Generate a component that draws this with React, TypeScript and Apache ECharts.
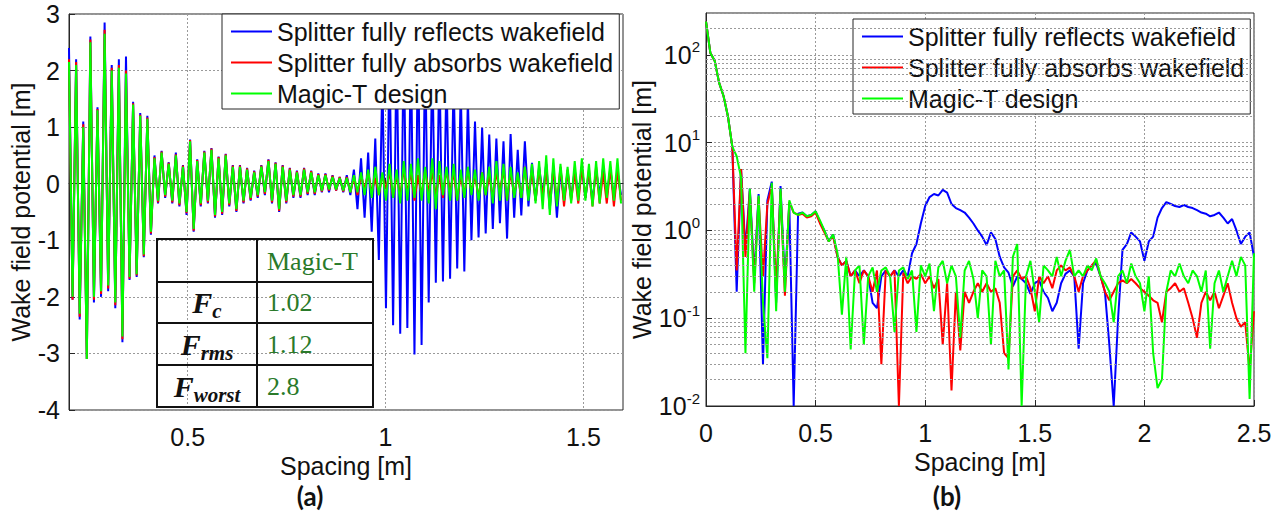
import React, { useEffect, useRef } from 'react';
import * as echarts from 'echarts';

// ---------- data ----------
const SERIES_NAMES = [
  'Splitter fully reflects wakefield',
  'Splitter fully absorbs wakefield',
  'Magic-T design',
];
const SERIES_COLORS = ['#0000ff', '#ff0000', '#00ff00'];

// panel (a): samples start at 0.2 m, spaced 0.009 m
const A_X_START = 0.2;
const A_X_STEP = 0.009;
const A_REFLECT = [2.4,-2.05,2.2,-2.4,1.1,-3.1,2.6,-2.1,1.35,-2.0, 2.85,-1.9,2.1,-2.2,2.2,-2.8,2.25,-1.7,1.45,-1.65, 1.25,-1.3,1.2,-0.9,0.5,-0.35,0.58,-0.25,0.38,-0.35, 0.55,-0.4,0.33,-0.55,0.78,-0.85,0.43,-0.4,0.58,-0.35, 0.63,-0.6,0.48,-0.55,0.53,-0.4,0.33,-0.5,0.33,-0.35, 0.28,-0.3,0.23,-0.25,0.33,-0.2,0.43,-0.35,0.38,-0.5, 0.33,-0.35,0.28,-0.25,0.23,-0.25,0.28,-0.2,0.23,-0.2, 0.18,-0.15,0.18,-0.15,0.15,-0.12,0.12,-0.15,0.15,-0.2, 0.25,-0.45,0.45,-0.6,0.55,-0.85,0.8,-1.35,1.9,-2.2, 2.4,-2.5,2.6,-2.65,2.7,-2.55,2.6,-3.02,2.7,-2.85, 2.5,-2.1,2.3,-1.75,2.2,-1.73,2.0,-1.68,1.9,-1.5, 1.7,-1.55,1.5,-1.0,1.1,-0.95,0.99,-0.88,0.87,-0.8, 0.8,-0.7,0.75,-0.97,0.88,-0.6,0.6,-0.56,0.75,-0.4, 0.37,-0.3,0.3,-0.2,0.35,-0.45,0.3,-0.6,0.25,-0.3, 0.2,-0.25,0.25,-0.2,0.3,-0.25,0.2,-0.3,0.25,-0.2, 0.3,-0.2,0.25,-0.25,0.2,-0.2];
const A_ABSORB = [2.2,-2.05,2.15,-2.35,1.05,-3.1,2.55,-2.05,1.32,-1.95, 2.72,-1.85,2.05,-2.15,2.1,-2.75,2.0,-1.68,1.42,-1.62, 1.22,-1.28,1.17,-0.88,0.47,-0.33,0.57,-0.23,0.37,-0.33, 0.52,-0.38,0.32,-0.52,0.77,-0.83,0.42,-0.38,0.57,-0.33, 0.62,-0.58,0.47,-0.53,0.52,-0.38,0.32,-0.48,0.32,-0.33, 0.27,-0.28,0.22,-0.23,0.32,-0.18,0.42,-0.33,0.37,-0.48, 0.32,-0.33,0.27,-0.23,0.22,-0.23,0.27,-0.18,0.22,-0.18, 0.17,-0.14,0.17,-0.12,0.14,-0.12,0.12,-0.14,0.12, -0.15,0.12,-0.2,0.15,-0.1,0.2,-0.15,0.1,-0.2,0.15, -0.1,0.2,-0.25,0.15,-0.2,0.25,-0.15,0.2,-0.3,0.15, -0.2,0.25,-0.15,0.2,-0.2,0.15,-0.25,0.25,-0.15,0.2, -0.3,0.15,-0.2,0.25,-0.15,0.15,-0.25,0.2,-0.2,0.15, -0.25,0.2,-0.15,0.25,-0.3,0.2,-0.2,0.15,-0.25,0.3, -0.2,0.2,-0.3,0.25,-0.2,0.2,-0.3,0.25,-0.35,0.3, -0.4,0.25,-0.3,0.2,-0.35,0.3,-0.25,0.25,-0.4,0.3, -0.35,0.2,-0.35,0.3,-0.4,0.25,-0.3];
const A_MAGIC = [2.15,-2.0,2.1,-2.3,1.0,-3.1,2.5,-2.0,1.3,-1.9, 2.65,-1.8,2.0,-2.1,2.05,-2.7,1.95,-1.65,1.4,-1.6, 1.2,-1.25,1.15,-0.85,0.45,-0.3,0.55,-0.2,0.35,-0.3, 0.5,-0.35,0.3,-0.5,0.75,-0.8,0.4,-0.35,0.55,-0.3, 0.6,-0.55,0.45,-0.5,0.5,-0.35,0.3,-0.45,0.3,-0.3, 0.25,-0.25,0.2,-0.2,0.3,-0.15,0.4,-0.3,0.35,-0.45, 0.3,-0.3,0.25,-0.2,0.2,-0.2,0.25,-0.15,0.2,-0.15, 0.15,-0.12,0.15,-0.1,0.12,-0.1,0.1,-0.12,0.1,-0.15, 0.15,-0.15,0.2,-0.2,0.25,-0.25,0.3,-0.2,0.2,-0.3, 0.35,-0.25,0.25,-0.35,0.4,-0.3,0.35,-0.25,0.45,-0.3, 0.3,-0.35,0.45,-0.45,0.4,-0.2,0.3,-0.3,0.35,-0.3, 0.25,-0.25,0.3,-0.2,0.25,-0.3,0.2,-0.2,0.3,-0.35, 0.4,-0.3,0.35,-0.3,0.3,-0.25,0.2,-0.25,0.3,-0.3, 0.35,-0.35,0.4,-0.45,0.5,-0.55,0.45,-0.4,0.35,-0.3, 0.3,-0.35,0.4,-0.3,0.45,-0.3,0.35,-0.4,0.4,-0.35, 0.45,-0.25,0.4,-0.3,0.45,-0.35];

// panel (b): samples start at 0 m, spaced 0.02 m
const B_X_START = 0;
const B_X_STEP = 0.02;
const B_REFLECT = [240,105,85,48,34,20,9,0.2,5,0.6, 3,0.3,2.6,0.03,2.2,3.6,0.15,3.2,0.25,2.0, 0.01,1.55,1.6,1.45,1.5,1.65,1.25,1.0,0.75,0.9, 0.5,0.4,0.45,0.3,0.35,0.3,0.35,0.3,0.15,0.13, 0.3,0.35,0.3,0.35,0.3,0.35,0.3,0.55,0.7,1.2, 1.9,2.4,2.6,2.5,2.9,2.7,2.0,1.8,1.7,1.6, 1.4,1.2,1.0,0.85,0.68,0.95,0.8,0.5,0.38,0.33, 0.23,0.3,0.28,0.25,0.19,0.25,0.27,0.2,0.17,0.12, 0.15,0.25,0.32,0.35,0.3,0.045,0.25,0.35,0.4,0.42, 0.3,0.2,0.05,0.01,0.1,0.6,0.7,0.95,0.85,0.75, 0.45,0.75,0.85,1.4,1.8,2.1,2.0,1.9,1.85,1.95, 1.85,1.8,1.7,1.6,1.55,1.45,1.5,1.6,1.4,1.2, 1.35,1.0,0.7,0.85,0.95,0.5];
const B_ABSORB = [240,105,85,48,34,20,9,0.35,5,0.5, 2.8,0.25,2.4,0.3,2.0,3.2,0.2,2.8,0.18,2.1, 1.6,1.5,1.55,1.4,1.45,1.6,1.2,0.95,0.75,0.85, 0.5,0.4,0.45,0.3,0.35,0.25,0.35,0.3,0.2,0.35, 0.03,0.35,0.3,0.35,0.01,0.33,0.25,0.3,0.28,0.32, 0.25,0.3,0.22,0.28,0.05,0.25,0.015,0.2,0.043,0.2, 0.15,0.2,0.25,0.2,0.25,0.2,0.22,0.15,0.04,0.035, 0.3,0.35,0.28,0.3,0.22,0.12,0.3,0.25,0.3,0.22, 0.35,0.4,0.35,0.38,0.3,0.2,0.3,0.35,0.4,0.46, 0.3,0.2,0.16,0.2,0.25,0.27,0.25,0.28,0.25,0.22, 0.2,0.18,0.16,0.15,0.09,0.2,0.22,0.25,0.2,0.22, 0.15,0.1,0.06,0.15,0.2,0.16,0.2,0.13,0.18,0.25, 0.15,0.1,0.08,0.09,0.025,0.12];
const B_MAGIC = [240,105,85,48,34,20,9,7,4,0.04, 3,0.2,2.5,0.15,0.035,3.5,0.12,3,0.2,2.2, 1.6,1.5,1.6,1.45,1.5,1.65,1.3,1.0,0.75,0.9, 0.55,0.11,0.5,0.044,0.35,0.4,0.05,0.3,0.38,0.2, 0.35,0.38,0.3,0.07,0.35,0.38,0.28,0.35,0.07,0.4, 0.3,0.42,0.12,0.38,0.45,0.25,0.4,0.3,0.06,0.35, 0.45,0.28,0.1,0.35,0.3,0.05,0.45,0.3,0.35,0.026, 0.5,0.7,0.01,0.3,0.45,0.2,0.09,0.4,0.35,0.3, 0.5,0.3,0.45,0.6,0.3,0.35,0.3,0.4,0.35,0.48, 0.3,0.25,0.2,0.09,0.3,0.35,0.25,0.42,0.3,0.25, 0.12,0.3,0.04,0.016,0.02,0.2,0.35,0.3,0.42,0.3, 0.25,0.35,0.3,0.2,0.35,0.045,0.25,0.35,0.2,0.3, 0.45,0.3,0.5,0.4,0.012,0.55];

const A_X_TICKS = [0.5, 1, 1.5];
const LOG_DECADES = [0.01, 0.1, 1, 10, 100];
const LOG_MINOR_MULT = [2, 3, 4, 5, 6, 7, 8, 9];
const TABLE_HEADER = 'Magic-T';
const TABLE_SUBS = ['c', 'rms', 'worst'];
const TABLE_VALUES = ['1.02', '1.12', '2.8'];
const PANEL_LABELS = ['(a)', '(b)'];

// ---------- helpers ----------
const FONT = '"Liberation Sans", Arial, Helvetica, sans-serif';
const SERIF = '"Liberation Serif", "DejaVu Serif", serif';
const GREEN_TXT = '#2a7a2a';
const AX = '#262626';

const toPairs = (start: number, step: number, arr: number[]) =>
  arr.map((v, i) => [+(start + i * step).toFixed(4), v]);

const A_DATA = [A_REFLECT, A_ABSORB, A_MAGIC];
const B_DATA = [B_REFLECT, B_ABSORB, B_MAGIC];

export default function App() {
  const ref = useRef<HTMLDivElement>(null);
  useEffect(() => {
    if (!ref.current) return;
    const chart = echarts.init(ref.current, null, { renderer: 'svg' });

    const gridLine = { show: true, lineStyle: { color: '#9a9a9a', type: [2, 2] as any, width: 1 } };
    const labelStyle = { color: '#111', fontSize: 25, fontFamily: FONT };
    const nameStyle = { color: '#111', fontSize: 25, fontFamily: FONT, lineHeight: 25 };

    const minorVals: number[] = [];
    LOG_DECADES.forEach((d) => {
      LOG_MINOR_MULT.forEach((m) => {
        const v = +(d * m).toPrecision(3);
        if (v < 300) minorVals.push(v);
      });
    });

    const legendBase = {
      orient: 'vertical',
      icon: 'rect',
      itemWidth: 41,
      itemHeight: 2,
      itemGap: 6,
      backgroundColor: '#fff',
      borderColor: AX,
      borderWidth: 1,
      selectedMode: false,
      textStyle: { fontSize: 25, fontFamily: FONT, color: '#111', lineHeight: 25 },
      data: SERIES_NAMES,
    };

    const lineSeries: any[] = [];
    // helper series carrying the log minor grid (drawn first)
    lineSeries.push({
      type: 'line',
      xAxisIndex: 1,
      yAxisIndex: 1,
      data: [],
      z: 1,
      silent: true,
      markLine: {
        silent: true,
        symbol: 'none',
        animation: false,
        label: { show: false },
        lineStyle: { color: '#9a9a9a', type: [2, 2], width: 1 },
        data: minorVals.map((v) => ({ yAxis: v })),
      },
    });
    SERIES_NAMES.forEach((name, k) => {
      lineSeries.push({
        name,
        type: 'line',
        xAxisIndex: 0,
        yAxisIndex: 0,
        data: toPairs(A_X_START, A_X_STEP, A_DATA[k]),
        showSymbol: false,
        symbol: 'none',
        color: SERIES_COLORS[k],
        lineStyle: { width: 2, color: SERIES_COLORS[k] },
        z: 2 + k,
      });
    });
    SERIES_NAMES.forEach((name, k) => {
      lineSeries.push({
        name,
        type: 'line',
        xAxisIndex: 1,
        yAxisIndex: 1,
        data: toPairs(B_X_START, B_X_STEP, B_DATA[k]),
        showSymbol: false,
        symbol: 'none',
        color: SERIES_COLORS[k],
        lineStyle: { width: 2, color: SERIES_COLORS[k] },
        z: 2 + k,
      });
    });

    // table annotation
    const tX = 157, tY = 239, colX = 257, tR = 373, tB = 407;
    const rowLines = [282, 323, 365];
    const rowCenters = [261, 302, 344, 386];
    const graphics: any[] = [
      { type: 'rect', shape: { x: tX, y: tY, width: tR - tX, height: tB - tY }, style: { fill: 'none', stroke: '#111', lineWidth: 2 }, z: 10 },
      { type: 'line', shape: { x1: colX, y1: tY, x2: colX, y2: tB }, style: { stroke: '#111', lineWidth: 2 }, z: 10 },
      ...rowLines.map((y) => ({ type: 'line', shape: { x1: tX, y1: y, x2: tR, y2: y }, style: { stroke: '#111', lineWidth: 2 }, z: 10 })),
      { type: 'text', x: 267, y: rowCenters[0], style: { text: TABLE_HEADER, fill: GREEN_TXT, fontSize: 26, fontFamily: SERIF, align: 'left', verticalAlign: 'middle' }, z: 10 },
      ...TABLE_VALUES.map((t, i) => ({ type: 'text', x: 267, y: rowCenters[i + 1], style: { text: t, fill: GREEN_TXT, fontSize: 26, fontFamily: SERIF, align: 'left', verticalAlign: 'middle' }, z: 10 })),
      ...TABLE_SUBS.map((s, i) => ({
        type: 'text', x: 207, y: rowCenters[i + 1], z: 10,
        style: {
          text: '{f|F}{s|' + s + '}',
          align: 'center', verticalAlign: 'middle',
          rich: {
            f: { fontSize: 30, fontFamily: SERIF, fontWeight: 'bold', fontStyle: 'italic', fill: '#111' },
            s: { fontSize: 21, fontFamily: SERIF, fontWeight: 'bold', fontStyle: 'italic', fill: '#111', padding: [18, 0, 0, 0] },
          },
        },
      })),
      { type: 'text', x: 310, y: 496, style: { text: PANEL_LABELS[0], fill: '#111', fontSize: 26, fontWeight: 'bold', fontFamily: 'Lato, "Open Sans", sans-serif', align: 'center', verticalAlign: 'middle' } },
      { type: 'text', x: 947, y: 496, style: { text: PANEL_LABELS[1], fill: '#111', fontSize: 26, fontWeight: 'bold', fontFamily: 'Lato, "Open Sans", sans-serif', align: 'center', verticalAlign: 'middle' } },
    ];

    const option: any = {
      animation: false,
      backgroundColor: '#fff',
      grid: [
        { left: 69, top: 14, width: 554, height: 396, show: true, borderColor: AX, borderWidth: 1, backgroundColor: 'transparent', containLabel: false, outerBoundsMode: 'none' },
        { left: 706, top: 13, width: 548, height: 393, show: true, borderColor: AX, borderWidth: 1, backgroundColor: 'transparent', containLabel: false, outerBoundsMode: 'none' },
      ],
      legend: [
        { ...legendBase, left: 222, top: 14, padding: [5, 6, 3, 9] },
        { ...legendBase, left: 853, top: 19, padding: [5, 6, 3, 9] },
      ],
      xAxis: [
        {
          type: 'value', gridIndex: 0, min: 0.2, max: 1.6,
          name: 'Spacing [m]', nameLocation: 'middle', nameGap: 33, nameTextStyle: nameStyle,
          axisLine: { show: true, lineStyle: { color: AX } },
          axisTick: { show: true, inside: true, length: 6, customValues: A_X_TICKS, lineStyle: { color: AX } },
          axisLabel: { ...labelStyle, margin: 14, customValues: A_X_TICKS },
          splitLine: gridLine,
        },
        {
          type: 'value', gridIndex: 1, min: 0, max: 2.5, interval: 0.5,
          name: 'Spacing [m]', nameLocation: 'middle', nameGap: 36, nameTextStyle: nameStyle,
          axisLine: { show: true, lineStyle: { color: AX } },
          axisTick: { show: true, inside: true, length: 6, lineStyle: { color: AX } },
          axisLabel: { ...labelStyle, margin: 14 },
          splitLine: gridLine,
        },
      ],
      yAxis: [
        {
          type: 'value', gridIndex: 0, min: -4, max: 3, interval: 1,
          name: 'Wake field potential [m]', nameLocation: 'middle', nameGap: 34, nameTextStyle: nameStyle,
          axisLine: { show: true, lineStyle: { color: AX } },
          axisTick: { show: true, inside: true, length: 6, lineStyle: { color: AX } },
          axisLabel: { ...labelStyle, margin: 9 },
          splitLine: gridLine,
        },
        {
          type: 'log', gridIndex: 1, logBase: 10, min: 0.01, max: 300,
          name: 'Wake field potential [m]', nameLocation: 'middle', nameGap: 47, nameTextStyle: nameStyle,
          axisLine: { show: true, lineStyle: { color: AX } },
          axisTick: { show: true, inside: true, length: 6, lineStyle: { color: AX } },
          axisLabel: {
            ...labelStyle, margin: 6, showMaxLabel: false,
            formatter: (v: number) => {
              const e = Math.log10(v);
              const r = Math.round(e);
              if (Math.abs(e - r) > 1e-6) return '';
              return '10{sup|' + r + '}';
            },
            rich: { sup: { fontSize: 15, fontFamily: FONT, color: '#111', padding: [0, 0, 16, 0] } },
          },
          splitLine: gridLine,
        },
      ],
      series: lineSeries,
      graphic: graphics,
    };
    chart.setOption(option);
    return () => chart.dispose();
  }, []);
  return <div ref={ref} style={{ position: 'fixed', left: 0, top: 0, width: 1285, height: 513 }} />;
}
